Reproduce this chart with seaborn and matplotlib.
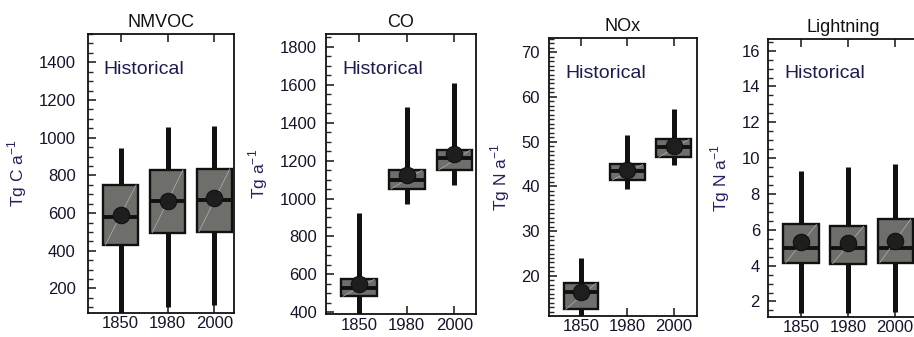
import matplotlib
matplotlib.use("Agg")
import matplotlib.pyplot as plt
from matplotlib.ticker import MultipleLocator
import numpy as np
import pandas as pd
import seaborn as sns

# Emission ranges across models: whisker min/max, box quartiles, median and mean
years = ["1850", "1980", "2000"]

nmvoc_min = [50, 100, 110]
nmvoc_q1 = [430, 495, 500]
nmvoc_med = [578, 665, 670]
nmvoc_q3 = [750, 830, 835]
nmvoc_max = [945, 1055, 1060]
nmvoc_mean = [590, 662, 678]

co_min = [370, 970, 1070]
co_q1 = [485, 1050, 1150]
co_med = [530, 1100, 1215]
co_q3 = [575, 1150, 1255]
co_max = [925, 1480, 1610]
co_mean = [550, 1125, 1235]

nox_min = [10.0, 39.4, 44.8]
nox_q1 = [12.5, 41.4, 46.5]
nox_med = [16.5, 43.5, 48.7]
nox_q3 = [18.4, 44.9, 50.5]
nox_max = [23.9, 51.5, 57.3]
nox_mean = [16.3, 43.6, 49.1]

ltg_min = [1.35, 1.35, 1.4]
ltg_q1 = [4.15, 4.1, 4.15]
ltg_med = [5.0, 5.0, 5.0]
ltg_q3 = [6.3, 6.2, 6.6]
ltg_max = [9.3, 9.5, 9.65]
ltg_mean = [5.3, 5.25, 5.35]

titles = ["NMVOC", "CO", "NOx", "Lightning"]
ylabels = ["Tg C a$^{-1}$", "Tg a$^{-1}$", "Tg N a$^{-1}$", "Tg N a$^{-1}$"]
panel_label = "Historical"

panels = [
    (nmvoc_min, nmvoc_q1, nmvoc_med, nmvoc_q3, nmvoc_max, nmvoc_mean),
    (co_min, co_q1, co_med, co_q3, co_max, co_mean),
    (nox_min, nox_q1, nox_med, nox_q3, nox_max, nox_mean),
    (ltg_min, ltg_q1, ltg_med, ltg_q3, ltg_max, ltg_mean),
]

# axis layout (pixels: left, bottom, width, height), limits and tick spacing
W, H = 914, 337
rects_px = [(87.5, 313, 146.5, 279), (326, 314.3, 150, 280),
            (549, 315.7, 148, 277.4), (768.3, 316.7, 149, 277.7)]
xlims = [(-0.71, 2.42), (-0.685, 2.45), (-0.688, 2.5), (-0.695, 2.47)]
ylims = [(70, 1550), (390, 1865), (11.1, 73.1), (1.15, 16.65)]
major = [200, 200, 10, 2]
minor = [50, 50, 1, 0.5]
ypads = [8.5, 6.5, 6.5, 6]

sns.set_theme(style="ticks")
plt.rcParams["font.family"] = ["Liberation Sans", "DejaVu Sans"]
plt.rcParams["mathtext.fontset"] = "custom"
plt.rcParams["mathtext.rm"] = "Liberation Sans"

TEXT = "#15152a"
LABEL = "#2a2060"
NAVY = "#1c1c50"
BOX = "#6e6e6a"

fig = plt.figure(figsize=(W / 100, H / 100), dpi=100)

for i, (vals, rect) in enumerate(zip(panels, rects_px)):
    lo, q1, med, q3, hi, mean = vals
    l, b, w, h = rect
    ax = fig.add_axes([l / W, 1 - b / H, w / W, h / H])
    pos = np.arange(len(years))

    stats = [dict(whislo=lo[k], q1=q1[k], med=med[k], q3=q3[k], whishi=hi[k],
                  label=years[k]) for k in range(len(years))]
    ax.bxp(stats, positions=pos, widths=0.75, showfliers=False, showcaps=False,
           patch_artist=True,
           boxprops=dict(facecolor=BOX, edgecolor="#111111", linewidth=1.7),
           whiskerprops=dict(color="#111111", linewidth=3.6, solid_capstyle="butt"),
           medianprops=dict(color="#111111", linewidth=2.8))

    # faint diagonal across each box
    for k in range(len(years)):
        ax.plot([pos[k] - 0.33, pos[k] + 0.33], [q1[k], q3[k]],
                color="#a8a8a4", lw=0.6, zorder=2.5)

    df = pd.DataFrame({"pos": pos, "mean": mean})
    sns.scatterplot(data=df, x="pos", y="mean", ax=ax, s=140, color="#1e1e1e",
                    edgecolor="#111111", linewidth=0.8, zorder=4, legend=False)

    ax.set_xlim(*xlims[i])
    ax.set_ylim(*ylims[i])
    ax.set_xticks(pos)
    ax.set_xticklabels(years)
    ax.yaxis.set_major_locator(MultipleLocator(major[i]))
    ax.yaxis.set_minor_locator(MultipleLocator(minor[i]))
    if i == 2:
        ax.set_yticks([20, 30, 40, 50, 60, 70])

    ax.tick_params(axis="y", which="major", direction="in", length=6, width=1.2,
                   labelsize=12, labelcolor=TEXT, pad=ypads[i], right=False)
    ax.tick_params(axis="y", which="minor", direction="in", length=3.5, width=1,
                   right=False)
    ax.tick_params(axis="x", which="major", direction="in", length=6, width=1.2,
                   labelsize=12, labelcolor=TEXT, pad=2.5, top=True)
    ax.tick_params(axis="x", which="minor", bottom=False, top=False)

    for sp in ax.spines.values():
        sp.set_visible(True)
        sp.set_linewidth(1.3)
        sp.set_color("#111111")

    ax.set_xlabel("")
    ax.set_ylabel(ylabels[i], fontsize=12.5, color=LABEL, labelpad=7)
    ax.set_title(titles[i], fontsize=13, color="#111111", pad=5)
    ax.text(0.11, 0.905, panel_label, transform=ax.transAxes, ha="left", va="top",
            fontsize=14, color=NAVY)

fig.savefig("out.png", dpi=100)
